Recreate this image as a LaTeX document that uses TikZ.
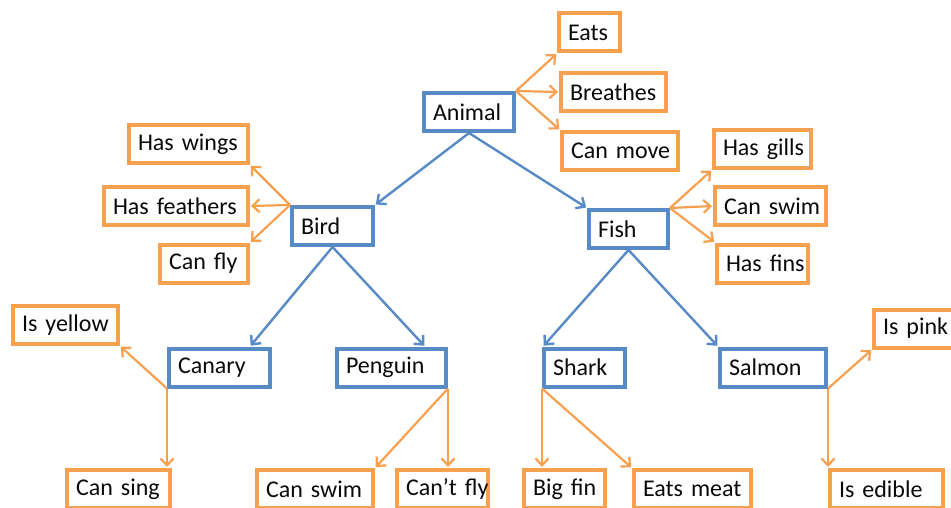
\documentclass[tikz,border=0pt]{standalone}
\usepackage{fontspec}
\setmainfont{Carlito}
\usetikzlibrary{arrows.meta,calc}
\definecolor{bluec}{RGB}{88,138,198}
\definecolor{orangec}{RGB}{247,160,80}
\definecolor{txtc}{RGB}{10,10,10}
\tikzset{
  basebox/.style={line width=4pt, fill=white, minimum height=38pt, inner xsep=9pt, inner ysep=0pt,
    align=left, text=txtc, font=\fontsize{24}{27}\selectfont},
  bbox/.style={basebox, draw=bluec, text width=#1},
  obox/.style={basebox, draw=orangec, text width=#1},
  barrow/.style={draw=bluec, line width=2.4pt, -{Straight Barb[length=7pt,width=13pt,line width=2.4pt]}, shorten >=1pt},
  oarrow/.style={draw=orangec, line width=2.2pt, -{Straight Barb[length=7pt,width=13pt,line width=2.2pt]}, shorten >=1pt}
}
\begin{document}
\begin{tikzpicture}[x=1pt,y=-1pt]
\useasboundingbox (0,0) rectangle (951,508);
\fill[white] (0,0) rectangle (951,508);
% blue nodes
\node[bbox=72pt] (animal) at (469,112) {Animal};
\node[bbox=63pt] (bird) at (332.5,226) {Bird};
\node[bbox=61pt] (fish) at (628.5,229) {Fish};
\node[bbox=83pt] (canary) at (219.5,367.5) {Canary};
\node[bbox=91pt] (penguin) at (391.5,367.5) {Penguin};
\node[bbox=63pt] (shark) at (584.5,367.5) {Shark};
\node[bbox=88pt] (salmon) at (773,367.5) {Salmon};
% orange nodes
\node[obox=43pt] (eats) at (589.5,32.5) {Eats};
\node[obox=87pt] (breathes) at (613.5,92) {Breathes};
\node[obox=98pt] (canmove) at (620,151) {Can~move};
\node[obox=101pt] (haswings) at (188.5,144) {Has~wings};
\node[obox=126pt] (hasfeathers) at (176,206) {Has~feathers};
\node[obox=70pt] (canfly) at (204,263.5) {Can~fly};
\node[obox=79pt] (hasgills) at (762.5,149) {Has~gills};
\node[obox=93pt] (canswimf) at (770.5,206) {Can~swim};
\node[obox=73pt] (hasfins) at (762.5,263.5) {Has~fins};
\node[obox=87pt] (isyellow) at (65.5,325) {Is~yellow};
\node[obox=71pt] (ispink) at (918.5,328.5) {Is~pink};
\node[obox=85pt] (cansing) at (118.5,489) {Can~sing};
\node[obox=98pt] (canswimp) at (315,489) {Can~swim};
\node[obox=73pt] (cantfly) at (442.5,489) {Can’t~fly};
\node[obox=63pt] (bigfin) at (564.5,489) {Big~fin};
\node[obox=99pt] (eatsmeat) at (692.5,489) {Eats~meat};
\node[obox=95pt] (isedible) at (886.5,489) {Is~edible};
% blue connectors
\draw[barrow] (animal.south) -- (bird.north east);
\draw[barrow] (animal.south) -- (fish.north west);
\draw[barrow] (bird.south) -- ([xshift=-22pt]canary.north east);
\draw[barrow] (bird.south) -- ([xshift=-23pt]penguin.north east);
\draw[barrow] (fish.south) -- ([xshift=1pt]shark.north west);
\draw[barrow] (fish.south) -- (salmon.north west);
% orange connectors
\draw[oarrow] (animal.north east) -- (eats.south west);
\draw[oarrow] (animal.north east) -- (breathes.west);
\draw[oarrow] (animal.north east) -- (canmove.north west);
\draw[oarrow] (bird.north west) -- (haswings.south east);
\draw[oarrow] (bird.north west) -- (hasfeathers.east);
\draw[oarrow] (bird.north west) -- (canfly.north east);
\draw[oarrow] (fish.north east) -- (hasgills.south west);
\draw[oarrow] (fish.north east) -- (canswimf.west);
\draw[oarrow] (fish.north east) -- (hasfins.north west);
\draw[oarrow] (canary.south west) -- (isyellow.south east);
\draw[oarrow] (canary.south west) -- (canary.south west |- cansing.north);
\draw[oarrow] (penguin.south east) -- (canswimp.north east);
\draw[oarrow] (penguin.south east) -- (penguin.south east |- cantfly.north);
\draw[oarrow] (shark.south west) -- (shark.south west |- bigfin.north);
\draw[oarrow] (shark.south west) -- (eatsmeat.north west);
\draw[oarrow] (salmon.south east) -- (ispink.south west);
\draw[oarrow] (salmon.south east) -- (isedible.north west);
\end{tikzpicture}
\end{document}
